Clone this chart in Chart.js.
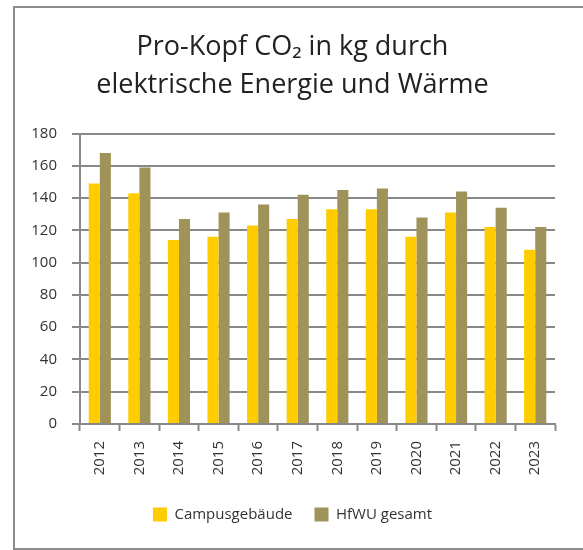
<!DOCTYPE html>
<html>
<head>
<meta charset="utf-8">
<script src="https://cdn.jsdelivr.net/npm/chart.js@4"></script>
<style>
  html, body { margin: 0; padding: 0; background: #fff; overflow: hidden; }
  #wrap { position: relative; width: 583px; height: 550px; }
  #frame {
    position: absolute; left: 13px; top: 6px; width: 600px; height: 540px;
    border: 2px solid #8c8c8c; pointer-events: none;
  }
</style>
</head>
<body>
<div id="wrap">
  <canvas id="co2Chart" width="583" height="550"></canvas>
  <div id="frame"></div>
</div>
<script>
/* ---------- data ---------- */
const years   = ['2012','2013','2014','2015','2016','2017','2018','2019','2020','2021','2022','2023'];
const campus  = [149, 143, 114, 116, 123, 127, 133, 133, 116, 131, 122, 108];
const hfwu    = [168, 159, 127, 131, 136, 142, 145, 146, 128, 144, 134, 122];
const yTicks  = [0, 20, 40, 60, 80, 100, 120, 140, 160, 180];

/* ---------- colours ---------- */
const COLORS = {
  campus : '#FFCC00',
  hfwu   : '#A09359',
  grid   : '#888888',
  text   : '#333333'
};

/* narrow-ish face for ticks + legend */
const NARROW = { family: '"Liberation Sans Narrow", "Open Sans", sans-serif', size: 15 };

new Chart(document.getElementById('co2Chart'), {
  type: 'bar',
  data: {
    labels: years,
    datasets: [
      { label: 'Campusgebäude', data: campus, backgroundColor: COLORS.campus,
        categoryPercentage: 0.56, barPercentage: 1.0 },
      { label: 'HfWU gesamt', data: hfwu, backgroundColor: COLORS.hfwu,
        categoryPercentage: 0.56, barPercentage: 1.0 }
    ]
  },
  options: {
    responsive: false,
    animation: false,
    layout: { padding: { left: 30, right: 28, top: 0, bottom: 18 } },
    plugins: {
      title: {
        display: true,
        text: ['Pro-Kopf CO₂ in kg durch', 'elektrische Energie und Wärme'],
        color: '#222',
        font: { family: '"Open Sans", sans-serif', size: 27, weight: 'normal', lineHeight: 1.38 },
        padding: { top: 29, bottom: 30 }
      },
      legend: {
        position: 'bottom',
        labels: {
          color: COLORS.text,
          boxWidth: 14, boxHeight: 14, padding: 22,
          font: { ...NARROW }
        }
      },
      tooltip: { enabled: false }
    },
    scales: {
      x: {
        grid: {
          offset: true, drawOnChartArea: false, drawTicks: true,
          tickLength: 7, tickWidth: 2, tickColor: COLORS.grid
        },
        border: { display: true, color: COLORS.grid, width: 2 },
        ticks: {
          color: COLORS.text, minRotation: 90, maxRotation: 90, padding: 10,
          font: { ...NARROW }
        },
        afterFit: s => { s.height = 61; }
      },
      y: {
        min: 0, max: 180,
        afterBuildTicks: s => { s.ticks = yTicks.map(v => ({ value: v })); },
        grid: {
          color: COLORS.grid, lineWidth: 2, drawTicks: true,
          tickLength: 8, tickColor: COLORS.grid
        },
        border: { display: true, color: COLORS.grid, width: 2 },
        ticks: {
          color: COLORS.text, padding: 15,
          font: { ...NARROW }
        },
        afterFit: s => { s.width = 50; }
      }
    }
  }
});
</script>
</body>
</html>
